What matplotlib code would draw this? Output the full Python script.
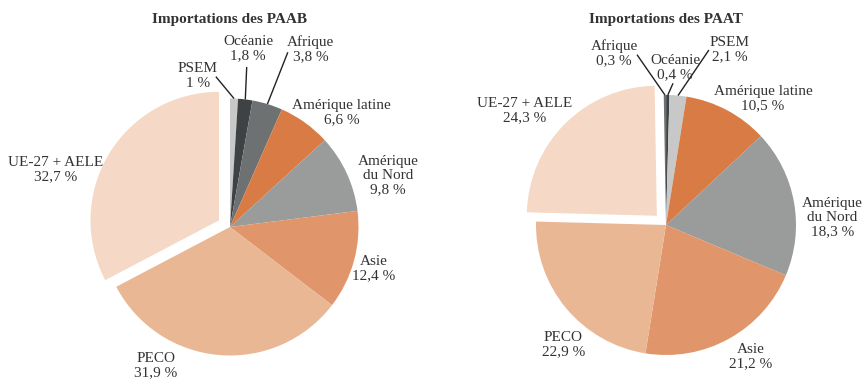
import numpy as np
import matplotlib
matplotlib.use('Agg')
import matplotlib.pyplot as plt

plt.rcParams['font.family'] = ['Liberation Serif', 'DejaVu Serif']

W, H = 866, 381

# import shares by origin (%)
paab_regions = ['PSEM', 'Océanie', 'Afrique', 'Amérique latine', 'Amérique\ndu Nord', 'Asie', 'PECO', 'UE-27 + AELE']
paab_values = [1.0, 1.8, 3.8, 6.6, 9.8, 12.4, 31.9, 32.7]

paat_regions = ['Afrique', 'Océanie', 'PSEM', 'Amérique latine', 'Amérique\ndu Nord', 'Asie', 'PECO', 'UE-27 + AELE']
paat_values = [0.3, 0.4, 2.1, 10.5, 18.3, 21.2, 22.9, 24.3]

region_colors = {
    'PSEM': '#c8c8c8',
    'Océanie': '#3e4244',
    'Afrique': '#6e7171',
    'Amérique latine': '#d97b44',
    'Amérique\ndu Nord': '#9a9b9b',
    'Asie': '#e0966a',
    'PECO': '#eab794',
    'UE-27 + AELE': '#f5d8c5',
}

TEXT_COLOR = '#333333'

# label centres and leader-line starts, in pie radius units
paab_label_pos = [(-0.25, 1.175), (0.14, 1.39), (0.63, 1.38), (0.87, 0.89),
                  (1.23, 0.40), (1.12, -0.32), (-0.576, -1.08), (-1.354, 0.444)]
paab_leaders = [(-0.11, 1.17), (0.13, 1.245), (0.45, 1.36), None, None, None, None, None]

paat_label_pos = [(-0.40, 1.32), (0.069, 1.21), (0.49, 1.346), (0.746, 0.97),
                  (1.28, 0.06), (0.654, -1.015), (-0.79, -0.92), (-1.085, 0.877)]
paat_leaders = [(-0.223, 1.31), (0.054, 1.09), (0.33, 1.346), None, None, None, None, None]


def fmt_pct(v):
    if v == int(v):
        return f"{int(v)} %"
    return f"{v:.1f} %".replace('.', ',')


def draw_pie(fig, cx, cy, r, title, regions, values, label_pos, leaders, start):
    lim = 1.7
    ax = fig.add_axes([(cx - lim * r) / W, (H - cy - lim * r) / H,
                       2 * lim * r / W, 2 * lim * r / H])

    explode = [0.1 if reg.startswith('UE') else 0 for reg in regions]
    colors = [region_colors[reg] for reg in regions]
    wedges, _ = ax.pie(values, colors=colors, explode=explode, startangle=start,
                       counterclock=False, radius=1,
                       wedgeprops=dict(linewidth=0))
    # pie() resets the limits, so fix them afterwards
    ax.set_xlim(-lim, lim)
    ax.set_ylim(-lim, lim)
    ax.axis('off')

    for w, reg, v, pos, lead in zip(wedges, regions, values, label_pos, leaders):
        ax.text(pos[0], pos[1], f"{reg}\n{fmt_pct(v)}", ha='center', va='center',
                fontsize=11, color=TEXT_COLOR, linespacing=1.12)
        if lead is not None:
            mid = np.deg2rad((w.theta1 + w.theta2) / 2)
            ax.plot([lead[0], np.cos(mid)], [lead[1], np.sin(mid)],
                    color='#222222', lw=1, solid_capstyle='butt')

    fig.text(cx / W, 1 - 20 / H, title, ha='center', va='center',
             fontsize=11, fontweight='bold', color=TEXT_COLOR)


fig = plt.figure(figsize=(W / 100, H / 100), dpi=100)
draw_pie(fig, 230, 227, 128.5, 'Importations des PAAB', paab_regions, paab_values,
         paab_label_pos, paab_leaders, 90)
draw_pie(fig, 666, 225, 130, 'Importations des PAAT', paat_regions, paat_values,
         paat_label_pos, paat_leaders, 91)

fig.savefig('out.png', dpi=100)
